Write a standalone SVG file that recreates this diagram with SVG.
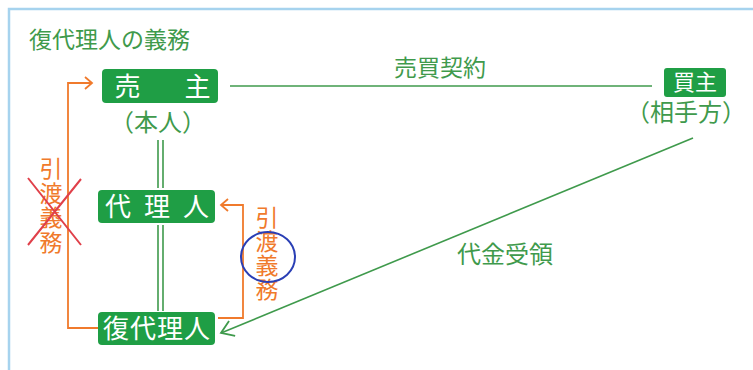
<svg xmlns="http://www.w3.org/2000/svg" width="753" height="370" viewBox="0 0 753 370">
<defs>
<style>
text{font-family:"Noto Sans CJK JP","Noto Sans CJK SC",sans-serif}
.box{fill:#1f9e45}
.wt{fill:#ffffff}
.gt{fill:#3f9a4c}
.ot{fill:#f07a2c}
.vt{writing-mode:vertical-rl}
.g{stroke:#3f9a4c;stroke-width:1.6;fill:none}
.o{stroke:#f07a2c;stroke-width:1.8;fill:none}
</style>
<marker id="ao" markerWidth="12" markerHeight="14" refX="9" refY="7" orient="auto" markerUnits="userSpaceOnUse">
<path d="M2,1 L9,7 L2,13" fill="none" stroke="#f07a2c" stroke-width="1.8"/>
</marker>
<marker id="ag" markerWidth="16" markerHeight="18" refX="14" refY="9" orient="auto" markerUnits="userSpaceOnUse">
<path d="M2,1 L14,9 L2,17" fill="none" stroke="#3f9a4c" stroke-width="1.8"/>
</marker>
</defs>
<rect x="0" y="0" width="753" height="370" fill="#ffffff"/>
<path d="M9,370 V9 H753" fill="none" stroke="#a6d3ee" stroke-width="2.5"/>
<text x="29" y="48" font-size="23" class="gt">復代理人の義務</text>
<g id="connectors">
<path class="o" d="M98,328 H68 V83 H92" marker-end="url(#ao)"/>
<path class="o" d="M218,318 H243 V205 H221" marker-end="url(#ao)"/>
<path class="g" d="M230,86 H652"/>
<path class="g" d="M158,140 V188 M163,140 V188"/>
<path class="g" d="M158,225 V311 M163,225 V311"/>
<path class="g" d="M693,138 L221,333" marker-end="url(#ag)"/>
<text x="440" y="76" font-size="23" class="gt" text-anchor="middle">売買契約</text>
<text x="505" y="263" font-size="24" class="gt" text-anchor="middle">代金受領</text>
</g>
<g id="seller">
<rect class="box" x="102" y="69" width="116" height="34" rx="4"/>
<text x="114.5" y="96" font-size="26" class="wt" letter-spacing="9">売　主</text>
<text x="158" y="131" font-size="24" class="gt" text-anchor="middle">（本人）</text>
</g>
<g id="agent">
<rect class="box" x="98" y="190" width="117" height="33" rx="4"/>
<text x="105" y="216" font-size="26" class="wt" letter-spacing="13">代理人</text>
</g>
<g id="subagent">
<rect class="box" x="98" y="312" width="117" height="33" rx="4"/>
<text x="103" y="338" font-size="26" class="wt" letter-spacing="1">復代理人</text>
</g>
<g id="buyer">
<rect class="box" x="664" y="68" width="62" height="29" rx="3"/>
<text x="695" y="90" font-size="22" class="wt" text-anchor="middle">買主</text>
<text x="686" y="121" font-size="24" class="gt" text-anchor="middle">（相手方）</text>
</g>
<g id="label-left">
<text x="51" y="157" font-size="23" class="ot vt" letter-spacing="1.5">引渡義務</text>
<path d="M28,178 L81,245 M81,179 L28,245" stroke="#e0404a" stroke-width="2" fill="none"/>
</g>
<g id="label-right">
<text x="267" y="206" font-size="23" class="ot vt" letter-spacing="1">引渡義務</text>
<ellipse cx="268" cy="257" rx="27" ry="25" fill="none" stroke="#2a3fb5" stroke-width="2"/>
</g>
</svg>
